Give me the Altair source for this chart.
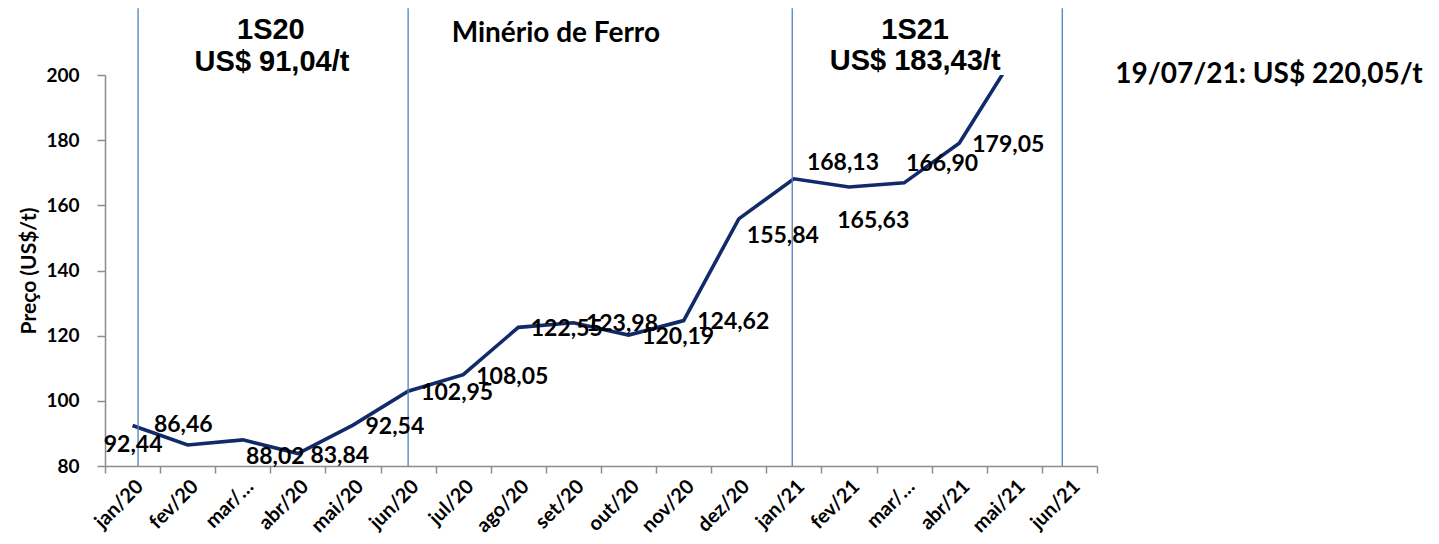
import altair as alt
import pandas as pd

# ---- data ----
months = ["jan/20", "fev/20", "mar/20", "abr/20", "mai/20", "jun/20", "jul/20", "ago/20",
          "set/20", "out/20", "nov/20", "dez/20", "jan/21", "fev/21", "mar/21", "abr/21",
          "mai/21", "jun/21"]
line_months = months[:17]
prices = [92.44, 86.46, 88.02, 83.84, 92.54, 102.95, 108.05, 122.55, 123.98, 120.19,
          124.62, 155.84, 168.13, 165.63, 166.90, 179.05, 206.0]

label_texts = ["92,44", "86,46", "88,02", "83,84", "92,54", "102,95", "108,05", "122,55",
               "123,98", "120,19", "124,62", "155,84", "168,13", "165,63", "166,90", "179,05"]
# where the value labels sit (month index, price units), as drawn in the reference
label_at_index = [0.01, 0.92, 2.59, 3.76, 4.76, 5.89, 6.89, 7.88, 8.88, 9.90, 10.90,
                  11.80, 12.89, 13.44, 14.69, 15.89]
label_at_value = [86.4, 92.6, 82.8, 83.1, 92.0, 102.4, 107.3, 122.0, 123.6, 119.6, 124.2,
                  150.6, 173.0, 155.2, 172.7, 178.5]

divider_index = [0.1, 5.0, 11.97, 16.87]
divider_from = 80
divider_to = 220.5

period_texts = ["1S20", "US$ 91,04/t", "1S21", "US$ 183,43/t"]
period_index = [2.51, 2.53, 14.2, 14.2]
period_value = [213.8, 204.0, 213.8, 204.3]

note_texts = ["Minério de Ferro", "19/07/21: US$ 220,05/t"]
note_index = [7.68, 20.62]
note_value = [212.6, 200.0]

y_ticks = [80, 100, 120, 140, 160, 180, 200]

# ---- tables ----
line_df = pd.DataFrame({"month": line_months, "price": prices})
label_df = pd.DataFrame({"t": label_texts, "i": label_at_index, "v": label_at_value})
div_df = pd.DataFrame({"i": divider_index, "v0": [divider_from] * 4, "v1": [divider_to] * 4})
period_df = pd.DataFrame({"t": period_texts, "i": period_index, "v": period_value})
note_df = pd.DataFrame({"t": note_texts, "i": note_index, "v": note_value})

yscale = alt.Scale(domain=[80, 200], nice=False, zero=False)
qx = alt.Scale(domain=[-0.5, 17.5], nice=False, zero=False)

line = alt.Chart(line_df).mark_line(color="#102A6A", strokeWidth=3.6, clip=True).encode(
    x=alt.X("month:O", sort=months, bandPosition=0.5,
            scale=alt.Scale(type="band", domain=months, paddingInner=0, paddingOuter=0),
            axis=alt.Axis(title=None, tickBand="extent", labelAngle=-45,
                          labelAlign="right", labelBaseline="top", labelPadding=3,
                          labelExpr="indexof(datum.label, 'mar/') == 0 ? 'mar/…' : datum.label",
                          labelFont="Lato", labelFontWeight="bold", labelFontSize=20,
                          labelColor="black", domainColor="#8C8C8C", domainWidth=1.5,
                          tickColor="#8C8C8C", tickWidth=1.5, tickSize=7, grid=False)),
    y=alt.Y("price:Q", scale=yscale,
            axis=alt.Axis(values=y_ticks, grid=False, title="Preço (US$/t)",
                          titleFont="Lato", titleFontWeight="bold", titleFontSize=21,
                          titleColor="black", titlePadding=6,
                          labelFont="Lato", labelFontWeight="bold", labelFontSize=19,
                          labelColor="black", labelPadding=18,
                          domainColor="#8C8C8C", domainWidth=1.5,
                          tickColor="#8C8C8C", tickWidth=1.5, tickSize=8)),
)

rules = alt.Chart(div_df).mark_rule(color="#4F81BD", strokeWidth=1.3).encode(
    x=alt.X("i:Q", scale=qx, axis=None),
    y=alt.Y("v0:Q", scale=yscale),
    y2="v1:Q",
)

labels = alt.Chart(label_df).mark_text(
    font="Lato", fontWeight="bold", fontSize=23, color="black",
    align="center", baseline="middle").encode(
    x=alt.X("i:Q", scale=qx, axis=None),
    y=alt.Y("v:Q", scale=yscale),
    text="t:N",
)

periods = alt.Chart(period_df).mark_text(
    font="Liberation Sans", fontWeight="bold", fontSize=29, color="black",
    align="center", baseline="middle").encode(
    x=alt.X("i:Q", scale=qx, axis=None),
    y=alt.Y("v:Q", scale=yscale),
    text="t:N",
)

notes = alt.Chart(note_df).mark_text(
    font="Lato", fontWeight="bold", fontSize=28, color="black",
    align="center", baseline="middle").encode(
    x=alt.X("i:Q", scale=qx, axis=None),
    y=alt.Y("v:Q", scale=yscale),
    text="t:N",
)

chart = alt.layer(line, rules, labels, periods, notes).resolve_scale(
    x="independent"
).properties(
    width=992, height=391,
    padding={"left": 97, "top": 67, "right": 330, "bottom": 70},
    autosize=alt.AutoSizeParams(type="none"),
    background="white",
).configure_view(stroke=None)

chart.save("out.html", embed_options={"renderer": "svg", "actions": False})
